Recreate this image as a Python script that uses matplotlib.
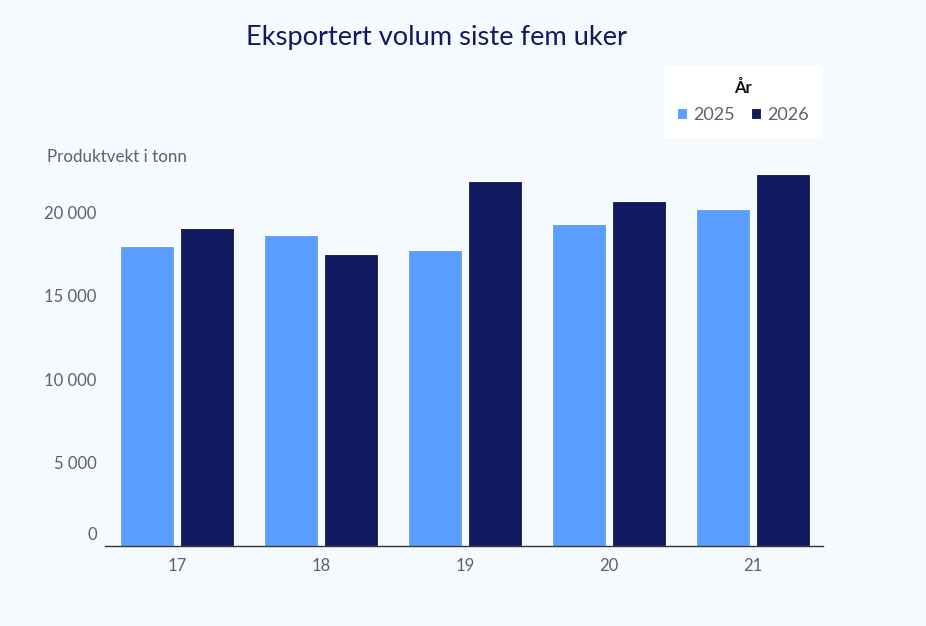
import matplotlib.pyplot as plt
import matplotlib.transforms as mtransforms
import numpy as np

# ================================
# Data
# ================================
weeks = ["17", "18", "19", "20", "21"]
vol_2025 = [18000, 18630, 17750, 19310, 20210]
vol_2026 = [19090, 17490, 21870, 20670, 22290]
years = ["2025", "2026"]

# ================================
# Style
# ================================
BG = "#F5FAFF"
LIGHT = "#5B9EFF"
DARK = "#111A5F"
TEXT = "#5C6070"
TITLE = "#111A5F"

plt.rcParams['font.family'] = ['Lato', 'DejaVu Sans']

fig = plt.figure(figsize=(9.26, 6.26), dpi=100, facecolor=BG)
W, H = 926, 626
ax = fig.add_axes([105 / W, 1 - 545.7 / H, (822.7 - 105) / W, (545.7 - 145.9) / H])
ax.set_facecolor(BG)

x = np.arange(len(weeks))
bw = 0.375
ax.bar(x - 0.209, vol_2025, width=bw, color=LIGHT, edgecolor="white", linewidth=0.8, label=years[0])
ax.bar(x + 0.209, vol_2026, width=bw, color=DARK, edgecolor="white", linewidth=0.8, label=years[1])

ax.set_xlim(-0.5, 4.484)
ax.set_ylim(0, 24000)

ax.set_xticks(x)
ax.set_xticklabels(weeks)
ax.set_yticks([0, 5000, 10000, 15000, 20000])
ax.set_yticklabels(["0", "5 000", "10 000", "15 000", "20 000"])
ax.tick_params(axis="both", length=0, labelsize=12, colors=TEXT)
ax.tick_params(axis="x", pad=9)
ax.tick_params(axis="y", pad=6)

# the zero label is lifted off the axis line
shift = mtransforms.ScaledTranslation(0, 12 / 100, fig.dpi_scale_trans)
zero_lbl = ax.get_yticklabels()[0]
zero_lbl.set_transform(zero_lbl.get_transform() + shift)

for s in ["top", "right", "left"]:
    ax.spines[s].set_visible(False)
ax.spines["bottom"].set_color("#333333")
ax.spines["bottom"].set_linewidth(1.0)

# Titles
fig.text(436 / W, 1 - 38 / H, "Eksportert volum siste fem uker", ha="center", va="center",
         fontsize=19.6, color=TITLE)
fig.text(47 / W, 1 - 157 / H, "Produktvekt i tonn", ha="left", va="center",
         fontsize=12.2, color=TEXT)

# Legend
leg = fig.legend(title="År", loc="upper right", bbox_to_anchor=(822 / W, 1 - 66 / H),
                 borderaxespad=0, ncol=2, frameon=True, fancybox=True,
                 facecolor="white", edgecolor="white",
                 fontsize=13, handlelength=0.55, handleheight=0.55, handletextpad=0.35,
                 columnspacing=0.85, borderpad=0.75, labelspacing=0.65,
                 title_fontproperties={"weight": "bold", "size": 12})
leg.get_frame().set_alpha(1)
leg.get_title().set_color("#111111")
for t in leg.get_texts():
    t.set_color(TEXT)

fig.savefig("out.png", dpi=100, facecolor=BG)
